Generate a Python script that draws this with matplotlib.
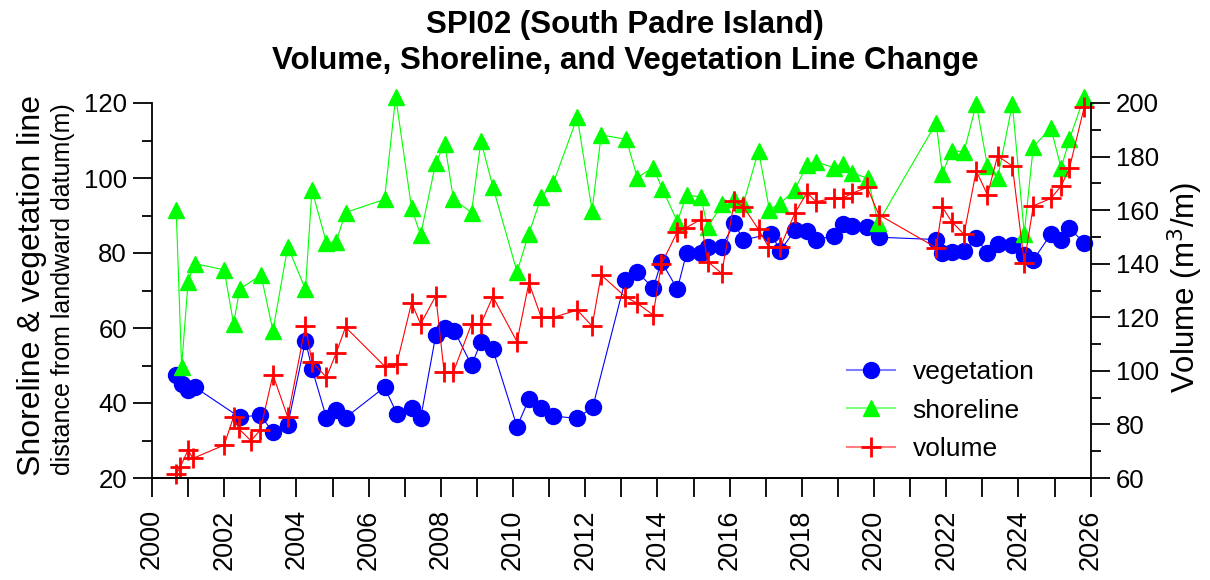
import matplotlib
matplotlib.use("Agg")
import matplotlib.pyplot as plt
from matplotlib.lines import Line2D
from matplotlib.ticker import MultipleLocator

plt.rcParams['font.family'] = ['Liberation Sans', 'DejaVu Sans']

# decimal years
veg_year = [2000.67, 2000.82, 2001.0, 2001.19, 2002.43, 2003.0, 2003.35, 2003.76,
            2004.25, 2004.43, 2004.83, 2005.1, 2005.36, 2006.44, 2006.78, 2007.19,
            2007.44, 2007.86, 2008.11, 2008.37, 2008.85, 2009.11, 2009.44, 2010.11,
            2010.44, 2010.78, 2011.12, 2011.78, 2012.21, 2013.11, 2013.44, 2013.88,
            2014.11, 2014.55, 2014.81, 2015.2, 2015.39, 2015.78, 2016.13, 2016.38,
            2017.15, 2017.4, 2017.81, 2018.14, 2018.39, 2018.88, 2019.13, 2019.39,
            2019.81, 2020.13, 2021.72, 2021.89, 2022.15, 2022.49, 2022.83, 2023.14,
            2023.42, 2023.83, 2024.16, 2024.41, 2024.9, 2025.18, 2025.41, 2025.82]
veg = [47.5, 45.2, 43.5, 44.2, 36.2, 36.8, 32.2, 34.1,
       56.6, 49.2, 36.1, 38.1, 36.1, 44.2, 37.2, 38.6,
       35.9, 58.1, 59.9, 59.3, 50.1, 56.2, 54.3, 33.7,
       41.0, 38.6, 36.5, 35.9, 39.0, 72.8, 75.0, 70.6,
       77.7, 70.4, 80.1, 80.1, 81.5, 81.7, 87.9, 83.5,
       85.1, 80.6, 86.1, 85.9, 83.5, 84.6, 87.7, 87.2,
       87.0, 84.2, 83.6, 80.1, 80.4, 80.5, 83.9, 80.1,
       82.4, 82.1, 79.5, 78.1, 85.1, 83.6, 86.6, 82.7]

shore_year = [2000.67, 2000.82, 2001.0, 2001.18, 2002.0, 2002.26, 2002.43, 2003.02,
              2003.35, 2003.76, 2004.25, 2004.43, 2004.83, 2005.1, 2005.36, 2006.44,
              2006.75, 2007.19, 2007.44, 2007.86, 2008.11, 2008.35, 2008.85, 2009.11,
              2009.44, 2010.11, 2010.44, 2010.78, 2011.12, 2011.78, 2012.19, 2012.44,
              2013.14, 2013.44, 2013.88, 2014.13, 2014.55, 2014.81, 2015.2, 2015.39,
              2015.8, 2016.13, 2016.38, 2016.8, 2017.1, 2017.4, 2017.8, 2018.14,
              2018.39, 2018.88, 2019.13, 2019.39, 2019.83, 2020.11, 2021.72, 2021.89,
              2022.15, 2022.49, 2022.83, 2023.14, 2023.42, 2023.83, 2024.16, 2024.41,
              2024.9, 2025.18, 2025.41, 2025.82]
shore = [91.6, 49.7, 72.4, 77.2, 75.5, 61.1, 70.4, 74.1,
         59.3, 81.7, 70.3, 96.8, 82.8, 83.0, 90.8, 94.3,
         121.7, 91.9, 84.8, 104.1, 109.1, 94.3, 90.8, 109.9,
         97.7, 75.0, 85.2, 94.9, 98.8, 116.2, 91.3, 111.5,
         110.3, 100.1, 102.8, 97.2, 88.4, 95.5, 94.9, 86.9,
         93.1, 94.3, 93.2, 107.3, 91.6, 93.2, 96.8, 103.5,
         104.3, 102.8, 103.7, 101.4, 99.9, 88.0, 114.7, 101.2,
         107.3, 107.0, 119.7, 103.2, 99.9, 119.7, 85.2, 108.4,
         113.3, 102.6, 110.3, 121.7]

vol_year = [2000.67, 2000.78, 2001.0, 2001.13, 2002.0, 2002.26, 2002.4, 2002.74,
            2003.0, 2003.35, 2003.76, 2004.25, 2004.43, 2004.83, 2005.1, 2005.36,
            2006.44, 2006.78, 2007.19, 2007.44, 2007.86, 2008.09, 2008.35, 2008.85,
            2009.11, 2009.44, 2010.11, 2010.44, 2010.78, 2011.12, 2011.78, 2012.19,
            2012.44, 2013.11, 2013.44, 2013.88, 2014.11, 2014.55, 2014.76, 2015.2,
            2015.39, 2015.78, 2016.13, 2016.38, 2016.8, 2017.07, 2017.4, 2017.81,
            2018.14, 2018.39, 2018.88, 2019.13, 2019.39, 2019.81, 2020.13, 2021.72,
            2021.89, 2022.15, 2022.49, 2022.83, 2023.14, 2023.42, 2023.83, 2024.16,
            2024.41, 2024.9, 2025.18, 2025.41, 2025.82]
vol = [61.5, 64.0, 70.5, 67.3, 72.3, 82.9, 78.5, 73.9,
       77.9, 98.5, 82.7, 116.7, 103.4, 97.6, 106.6, 116.3,
       101.8, 102.6, 125.4, 117.5, 128.0, 99.7, 99.7, 117.5,
       117.5, 127.7, 110.9, 132.9, 120.0, 120.0, 122.7, 116.7,
       135.8, 127.7, 125.2, 120.9, 139.9, 151.9, 153.2, 156.5,
       140.8, 136.4, 163.5, 161.3, 152.8, 146.4, 146.1, 159.0,
       166.5, 163.2, 164.4, 164.4, 166.3, 168.5, 158.3, 146.0,
       161.1, 155.7, 151.0, 174.7, 165.7, 180.2, 176.5, 140.4,
       161.6, 164.4, 169.0, 175.6, 198.4]

fig = plt.figure(figsize=(12.1, 5.8), dpi=100)
ax = fig.add_axes([152/1210, 1 - 478/580, (1090.7 - 152)/1210, 375/580])
ax2 = ax.twinx()

l1, = ax.plot(veg_year, veg, '-o', color='#0000ff', lw=0.8, ms=11.5,
              clip_on=False, label='vegetation')
l2, = ax.plot(shore_year, shore, '-^', color='#00ff00', lw=0.8, ms=12,
              clip_on=False, label='shoreline')
l3, = ax2.plot(vol_year, vol, '-+', color='#ff0000', lw=0.8, ms=15, mew=2,
               clip_on=False, label='volume')

ax.set_xlim(2000, 2026)
ax.set_ylim(20, 120)
ax2.set_ylim(60, 200)

for a in (ax, ax2):
    a.spines['top'].set_visible(False)
    a.spines[:].set_linewidth(1.3)
ax.spines['right'].set_visible(False)
ax2.spines['left'].set_visible(False)

ax.xaxis.set_major_locator(MultipleLocator(2))
ax.xaxis.set_minor_locator(MultipleLocator(1))
ax.yaxis.set_major_locator(MultipleLocator(20))
ax.yaxis.set_minor_locator(MultipleLocator(10))
ax2.yaxis.set_major_locator(MultipleLocator(20))
ax2.yaxis.set_minor_locator(MultipleLocator(10))

ax.tick_params(axis='x', which='both', direction='out', length=13.5, width=1.3,
               labelsize=19.5, labelrotation=90, pad=9)
ax.tick_params(axis='y', which='major', direction='out', length=13.5, width=1.3,
               labelsize=18.5, pad=4.5)
ax.tick_params(axis='y', which='minor', direction='out', length=7, width=1.3)
ax2.tick_params(axis='y', which='major', direction='out', length=13.5, width=1.3,
                labelsize=18.5, pad=4.5)
ax2.tick_params(axis='y', which='minor', direction='out', length=7, width=1.3)

fig.text(32/1210, 1 - 286/580, 'Shoreline & vegetation line', rotation=90,
         ha='center', va='center', fontsize=23)
fig.text(63/1210, 1 - 289/580, 'distance from landward datum(m)', rotation=90,
         ha='center', va='center', fontsize=18)
fig.text(1185/1210, 1 - 287/580, 'Volume (m$^3$/m)', rotation=90,
         ha='center', va='center', fontsize=22.5)

fig.text(625/1210, 1 - 43/580,
         'SPI02 (South Padre Island)\nVolume, Shoreline, and Vegetation Line Change',
         ha='center', va='center', fontsize=22.5, fontweight='bold', linespacing=1.25)

# legend: faded line behind a full-colour marker, as in the original
def handle(line):
    faded = Line2D([], [], color=line.get_color(), lw=1.5, alpha=0.5)
    mark = Line2D([], [], ls='none', marker=line.get_marker(), color=line.get_color(),
                  ms=line.get_markersize(), mew=line.get_markeredgewidth())
    return (faded, mark)

ax.legend([handle(l1), handle(l2), handle(l3)], ['vegetation', 'shoreline', 'volume'],
          loc='upper left', bbox_to_anchor=(847/1210, 1 - 360/580),
          bbox_transform=fig.transFigure, frameon=False, fontsize=19,
          numpoints=1, handlelength=1.8, handletextpad=0.68,
          borderpad=0, borderaxespad=0, labelspacing=0.55)

fig.savefig('out.png', dpi=100)
